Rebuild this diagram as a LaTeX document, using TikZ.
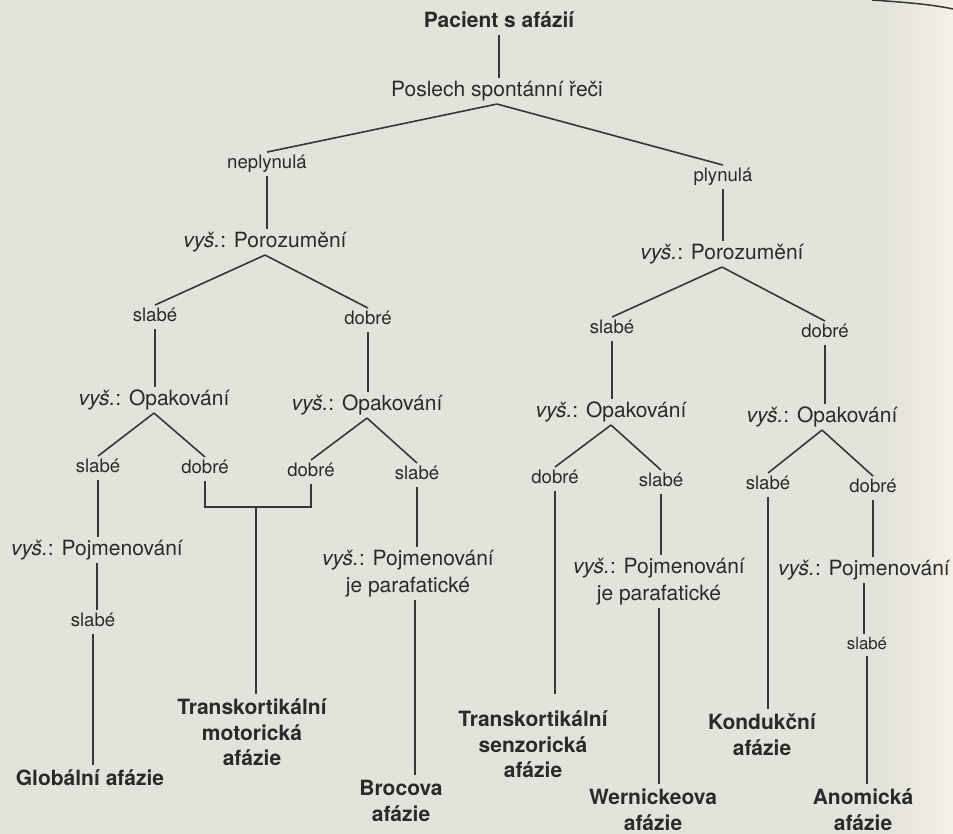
\documentclass[tikz,border=0pt]{standalone}
\usepackage{fontspec}
\setmainfont{TeX Gyre Heros}
\usetikzlibrary{calc}
\definecolor{bg}{RGB}{228,227,219}
\definecolor{cream}{RGB}{242,240,230}
\definecolor{ink}{RGB}{42,42,42}
\definecolor{wirec}{RGB}{55,55,55}
\begin{document}
\begin{tikzpicture}[x=1pt,y=-1pt,
  every node/.style={text=ink, inner xsep=0pt, inner ysep=3pt},
  q/.style={font=\fontsize{21}{25}\selectfont, text height=15.1pt, text depth=4.6pt},
  qb/.style={font=\fontsize{21}{25}\selectfont\bfseries, text height=15.1pt, text depth=4.6pt},
  lbl/.style={font=\fontsize{18.6}{22}\selectfont, text height=13.4pt, text depth=4.1pt},
  lbls/.style={font=\fontsize{16.8}{20}\selectfont, text height=12.1pt, text depth=3.7pt},
  twoline/.style={font=\fontsize{21}{27}\selectfont, align=center, anchor=north},
  leaf/.style={font=\fontsize{21}{25.5}\selectfont\bfseries, align=center, anchor=north, inner ysep=5pt},
  wire/.style={draw=wirec, line width=1.6pt},
  pageedge/.style={draw=wirec, line width=1.5pt},
]
\fill[bg] (0,0) rectangle (953,834);
\shade[left color=bg, right color=cream] (885,0) rectangle (953,834);
\useasboundingbox (0,0) rectangle (953,834);
\draw[pageedge] (872,0) .. controls (900,2) and (930,4) .. (953,9);

% level 0-2
\node[qb] (root) at (499,22) {Pacient s afázií};
\node[q] (posl) at (497,91) {Poslech spontánní řeči};
\node[lbl] (nepl) at (267,164) {neplynulá};
\node[lbl] (plyn) at (723,177) {plynulá};
\node[q] (porL) at (265,242) {\textit{vyš.}: Porozumění};
\node[q] (porR) at (722,254) {\textit{vyš.}: Porozumění};

% level 3
\node[lbl] (sL) at (155,317) {slabé};
\node[lbl] (dL) at (368,320) {dobré};
\node[lbl] (sR) at (612,329) {slabé};
\node[lbl] (dR) at (825,333) {dobré};

\node[q] (opL1) at (154,400) {\textit{vyš.}: Opakování};
\node[q] (opL2) at (367,405) {\textit{vyš.}: Opakování};
\node[q] (opR1) at (611,412) {\textit{vyš.}: Opakování};
\node[q] (opR2) at (822,417) {\textit{vyš.}: Opakování};

\node[lbl] (sL1a) at (98,468) {slabé};
\node[lbl] (dL1b) at (205,469) {dobré};
\node[lbl] (dL2a) at (311,472) {dobré};
\node[lbl] (sL2b) at (417,475) {slabé};
\node[lbl] (dR1a) at (555,479) {dobré};
\node[lbl] (sR1b) at (661,482) {slabé};
\node[lbl] (sR2a) at (768,485) {slabé};
\node[lbl] (dR2b) at (873,488) {dobré};

% lower part
\node[q] (pojL) at (97,550) {\textit{vyš.}: Pojmenování};
\node[lbl] (sGl) at (93,622) {slabé};
\node[leaf] (glob) at (90,765) {Globální afázie};

\coordinate (j1) at (256,507);
\node[leaf] (tm) at (252,694) {Transkortikální\\motorická\\afázie};

\node[twoline] (pojB) at (408,547) {\textit{vyš.}: Pojmenování\\je parafatické};
\node[leaf] (broca) at (401,775) {Brocova\\afázie};

\node[leaf] (ts) at (533,706) {Transkortikální\\senzorická\\afázie};

\node[twoline] (pojW) at (659,555) {\textit{vyš.}: Pojmenování\\je parafatické};
\node[leaf] (wern) at (653,784) {Wernickeova\\afázie};

\node[leaf] (kond) at (762,709) {Kondukční\\afázie};

\node[q] (pojA) at (864,570) {\textit{vyš.}: Pojmenování};
\node[lbls] (sA) at (867,645) {slabé};
\node[leaf] (anom) at (863,784) {Anomická\\afázie};

% connectors
\draw[wire] (root.south) -- (root.south |- posl.north);
\draw[wire] (posl.south) -- (nepl.north);
\draw[wire] (posl.south) -- (plyn.north);
\draw[wire] (nepl.south) -- (nepl.south |- porL.north);
\draw[wire] (plyn.south) -- (plyn.south |- porR.north);
\draw[wire] (porL.south) -- (sL.north);
\draw[wire] (porL.south) -- (dL.north);
\draw[wire] (porR.south) -- (sR.north);
\draw[wire] (porR.south) -- (dR.north);
\draw[wire] (sL.south) -- (sL.south |- opL1.north);
\draw[wire] (dL.south) -- (dL.south |- opL2.north);
\draw[wire] (sR.south) -- (sR.south |- opR1.north);
\draw[wire] (dR.south) -- (dR.south |- opR2.north);
\draw[wire] (opL1.south) -- (sL1a.north);
\draw[wire] (opL1.south) -- (dL1b.north);
\draw[wire] (opL2.south) -- (dL2a.north);
\draw[wire] (opL2.south) -- (sL2b.north);
\draw[wire] (opR1.south) -- (dR1a.north);
\draw[wire] (opR1.south) -- (sR1b.north);
\draw[wire] (opR2.south) -- (sR2a.north);
\draw[wire] (opR2.south) -- (dR2b.north);

\draw[wire] (sL1a.south) -- (sL1a.south |- pojL.north);
\draw[wire] (pojL.south) -- (pojL.south |- sGl.north);
\draw[wire] (sGl.south) -- (sGl.south |- glob.north);

\draw[wire] (dL1b.south) |- (j1) -| (dL2a.south);
\draw[wire] (j1) -- (j1 |- tm.north);

\draw[wire] (sL2b.south) -- (sL2b.south |- pojB.north);
\draw[wire] ([xshift=7pt]pojB.south) -- ([xshift=7pt]pojB.south |- broca.north);

\draw[wire, shorten >=12pt] (dR1a.south) -- (dR1a.south |- ts.north);

\draw[wire] (sR1b.south) -- (sR1b.south |- pojW.north);
\draw[wire] (pojW.south) -- (pojW.south |- wern.north);

\draw[wire] (sR2a.south) -- (sR2a.south |- kond.north);

\draw[wire] (dR2b.south) -- (dR2b.south |- pojA.north);
\draw[wire] (pojA.south) -- (pojA.south |- sA.north);
\draw[wire] (sA.south) -- (sA.south |- anom.north);
\end{tikzpicture}
\end{document}
